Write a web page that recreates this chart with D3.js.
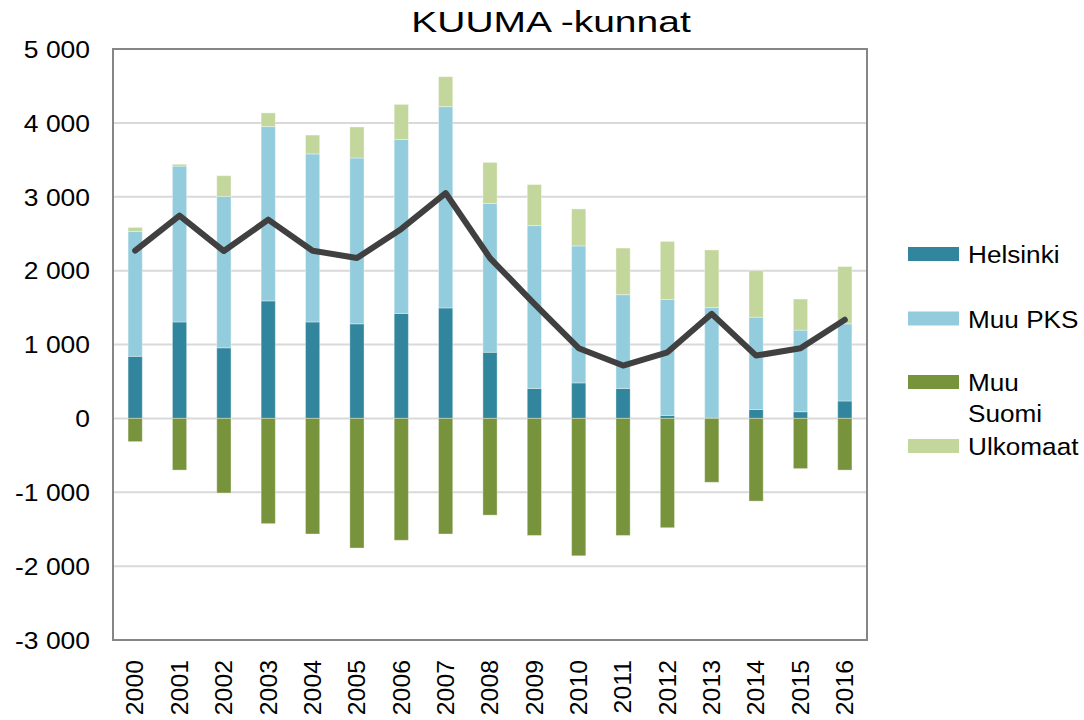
<!DOCTYPE html>
<html>
<head>
<meta charset="utf-8">
<script src="https://cdn.jsdelivr.net/npm/d3@7"></script>
<style>
body { margin: 0; background: #fff; }
text { font-family: "Liberation Sans", Arial, sans-serif; fill: #000; }
</style>
</head>
<body>
<div id="chart"></div>
<script>
'use strict'
var width = 1084;
var height = 720;

// data
var years = ['2000','2001','2002','2003','2004','2005','2006','2007','2008','2009','2010','2011','2012','2013','2014','2015','2016'];
var helsinki = [840, 1305, 955, 1590, 1305, 1280, 1420, 1495, 895, 405, 480, 405, 40, 0, 120, 90, 235];
var muuPKS   = [1690, 2110, 2050, 2360, 2275, 2245, 2355, 2725, 2015, 2205, 1855, 1270, 1570, 1500, 1250, 1105, 1045];
var muuSuomi = [-315, -700, -1010, -1425, -1565, -1755, -1650, -1565, -1310, -1585, -1860, -1585, -1480, -865, -1120, -680, -700];
var ulkomaat = [55, 25, 280, 185, 255, 420, 475, 405, 555, 555, 500, 630, 785, 780, 630, 420, 775];
var netto    = [2270, 2745, 2265, 2690, 2270, 2170, 2565, 3050, 2170, 1550, 950, 715, 895, 1415, 850, 950, 1335];
var yTicks = [-3000, -2000, -1000, 0, 1000, 2000, 3000, 4000, 5000];

var keys = ['Helsinki', 'Muu PKS', 'Muu Suomi', 'Ulkomaat'];
var colors = { 'Helsinki': '#31859c', 'Muu PKS': '#93cddd', 'Muu Suomi': '#77933c', 'Ulkomaat': '#c3d69b' };

var rows = years.map(function(y, i){
	return { year: y, 'Helsinki': helsinki[i], 'Muu PKS': muuPKS[i], 'Muu Suomi': muuSuomi[i], 'Ulkomaat': ulkomaat[i], netto: netto[i] };
});

var plot = { left: 113, right: 867, top: 49, bottom: 640 };

var svg = d3.select('#chart')
	.append('svg')
	.attr('width', width)
	.attr('height', height);

var x = d3.scaleBand()
	.domain(years)
	.range([plot.left, plot.right])
	.paddingInner(0.68)
	.paddingOuter(0.34);

var y = d3.scaleLinear()
	.domain([-3000, 5000])
	.range([plot.bottom, plot.top]);

var fi = d3.formatLocale({ decimal: ',', thousands: ' ', grouping: [3], currency: ['', ''], minus: '-' });
var fmt = fi.format(',d');

// gridlines
svg.append('g')
	.selectAll('line')
	.data(yTicks)
	.enter()
	.append('line')
		.attr('x1', plot.left)
		.attr('x2', plot.right)
		.attr('y1', function(d){ return y(d); })
		.attr('y2', function(d){ return y(d); })
		.style('stroke', '#d9d9d9')
		.style('stroke-width', '2px');

// stacked bars
var series = d3.stack()
	.keys(keys)
	.offset(d3.stackOffsetDiverging)(rows);

svg.append('g')
	.selectAll('g')
	.data(series)
	.enter()
	.append('g')
		.attr('fill', function(d){ return colors[d.key]; })
	.selectAll('rect')
	.data(function(d){ return d; })
	.enter()
	.append('rect')
		.attr('x', function(d){ return x(d.data.year); })
		.attr('width', x.bandwidth())
		.attr('y', function(d){ return y(d[1]); })
		.attr('height', function(d){ return Math.abs(y(d[0]) - y(d[1])); })
		.style('stroke', 'rgba(255,255,255,0.35)')
		.style('stroke-width', '1px');

// net line
var line = d3.line()
	.x(function(d){ return x(d.year) + x.bandwidth() / 2; })
	.y(function(d){ return y(d.netto); });

svg.append('path')
	.datum(rows)
	.attr('d', line)
	.style('fill', 'none')
	.style('stroke', '#404040')
	.style('stroke-width', '6px')
	.style('stroke-linejoin', 'round')
	.style('stroke-linecap', 'round');

// plot border
svg.append('rect')
	.attr('x', plot.left)
	.attr('y', plot.top)
	.attr('width', plot.right - plot.left)
	.attr('height', plot.bottom - plot.top)
	.style('fill', 'none')
	.style('stroke', '#868686')
	.style('stroke-width', '2px');

// y axis
var yAxis = svg.append('g')
	.attr('transform', 'translate(' + plot.left + ',0)')
	.call(d3.axisLeft(y).tickValues(yTicks).tickFormat(fmt).tickSize(0).tickPadding(20));
yAxis.select('.domain').remove();
yAxis.selectAll('text')
	.attr('transform', 'scale(1.15,1)')
	.attr('dy', '0.36em')
	.style('font-size', '23px')
	.style('font-family', '"Liberation Sans", Arial, sans-serif')
	.style('fill', '#000');

// x axis labels, rotated
svg.append('g')
	.selectAll('text')
	.data(years)
	.enter()
	.append('text')
		.attr('transform', function(d){ return 'translate(' + (x(d) + x.bandwidth() / 2) + ',660) rotate(-90) scale(1.08,1)'; })
		.attr('dy', '0.36em')
		.attr('text-anchor', 'end')
		.style('font-size', '23px')
		.text(function(d){ return d; });

// title
svg.append('text')
	.attr('transform', 'translate(551,32) scale(1.3,1)')
	.attr('text-anchor', 'middle')
	.style('font-size', '30px')
	.text('KUUMA -kunnat');

// legend
var legendY = [247, 311.5, 375, 439];
var legend = svg.append('g')
	.selectAll('g')
	.data(keys)
	.enter()
	.append('g')
		.attr('transform', function(d, i){ return 'translate(908,' + legendY[i] + ')'; });

legend.append('rect')
	.attr('width', 51)
	.attr('height', 14)
	.attr('fill', function(d){ return colors[d]; });

legend.append('text')
	.attr('transform', 'translate(60,16) scale(1.09,1)')
	.style('font-size', '24px')
	.each(function(d){
		var parts = d === 'Muu Suomi' ? ['Muu', 'Suomi'] : [d];
		var t = d3.select(this);
		parts.forEach(function(p, j){
			t.append('tspan')
				.attr('x', 0)
				.attr('dy', j === 0 ? 0 : 31.5)
				.text(p);
		});
	});
</script>
</body>
</html>
